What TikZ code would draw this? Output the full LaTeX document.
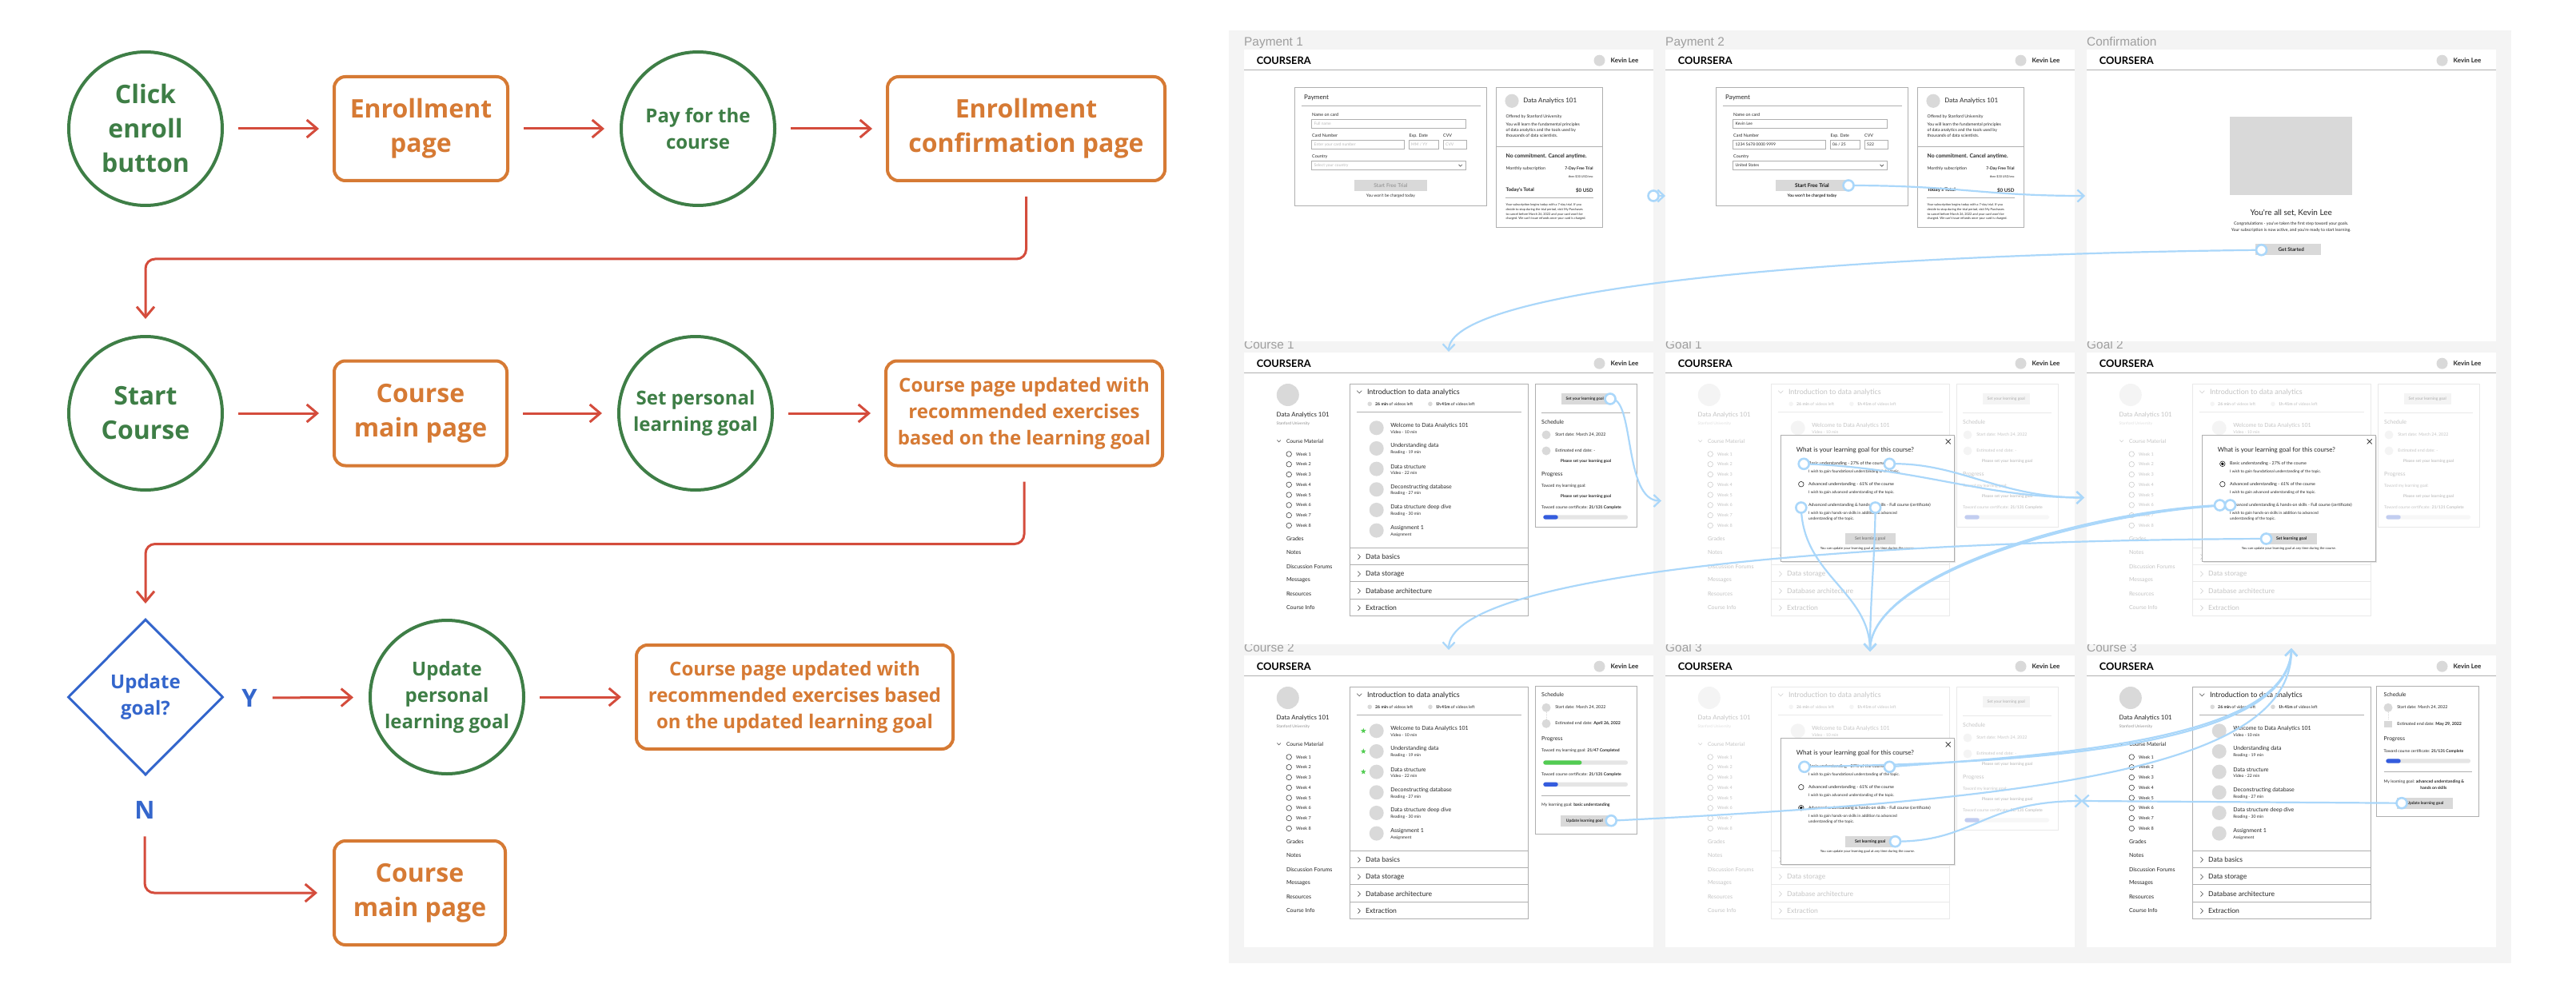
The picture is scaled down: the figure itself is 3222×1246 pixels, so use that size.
\documentclass[tikz,border=0pt]{standalone}
\usepackage{fontspec}
\usetikzlibrary{arrows.meta,shapes.geometric}
\newfontfamily\osans{Open Sans}
\newfontfamily\lato{Lato}
\newfontfamily\lsans{Liberation Sans}
\definecolor{fgreen}{RGB}{62,126,70}
\definecolor{forange}{RGB}{214,122,52}
\definecolor{fred}{RGB}{212,76,60}
\definecolor{fblue}{RGB}{52,102,204}
\definecolor{lblue}{RGB}{170,215,250}
\definecolor{bgg}{RGB}{244,244,244}
\definecolor{wline}{RGB}{175,175,175}
\definecolor{wfill}{RGB}{217,217,217}
\definecolor{pblue}{RGB}{52,92,222}
\definecolor{pgreen}{RGB}{82,204,82}
\newcommand\wfsz[1]{\fontsize{#1}{#1}\selectfont}
\tikzset{
  fcirc/.style={circle, draw=fgreen, line width=4pt, minimum size=192pt, inner sep=0pt, text=fgreen, align=center},
  fbox/.style={rectangle, rounded corners=14pt, draw=forange, line width=4pt, inner sep=0pt, text=forange, align=center, font=\osans\bfseries\fontsize{32}{43}\selectfont},
  fbig/.style={font=\osans\bfseries\fontsize{32}{43}\selectfont},
  fmid/.style={font=\osans\bfseries\fontsize{24}{33}\selectfont},
  yn/.style={inner sep=0pt, text=fblue, font=\osans\bfseries\fontsize{31}{31}\selectfont},
  fdia/.style={diamond, aspect=1, draw=fblue, line width=3pt, minimum width=194pt, minimum height=195pt, inner sep=0pt, text=fblue, align=center},
  farrow/.style={draw=fred, line width=3pt, -{Straight Barb[length=13pt,width=22pt]}},
  wt/.style={anchor=west, inner sep=0pt, text=black!85},
  wc/.style={anchor=center, inner sep=0pt, text=black!85},
  we/.style={anchor=east, inner sep=0pt, text=black!85},
  wbox/.style={draw=wline, line width=0.8pt},
  wchev/.style={draw=black!70, line width=0.6pt},
  plabel/.style={anchor=base west, inner sep=0pt, text=black!38, font=\lsans\fontsize{15.4}{15.4}\selectfont},
  klinkarrow/.style={draw=lblue, line width=2.2pt, -{Straight Barb[length=8pt,width=15pt]}},
  ldot/.style={circle, draw=lblue, fill=white, line width=2.6pt, minimum size=13pt, inner sep=0pt},
}
% ---------- wireframe pieces (local coordinates, panel 512 x 365) ----------
\newcommand\wfbase{%
  \fill[white] (0,0) rectangle (512,365);
  \node[wt, text=black, font=\lato\bfseries\wfsz{12.8}] at (15.6,14) {COURSERA};
  \draw[wline, line width=1pt] (0,25.7) -- (512,25.7);
  \fill[wfill] (444.5,13.7) circle (7pt);
  \node[wt, font=\lato\bfseries\wfsz{8}] at (458.5,14) {Kevin Lee};
}
\newcommand\wfbar[3]{%
  \fill[black!10, rounded corners=2.5pt] (374.3,#1-2.6) rectangle (480,#1+2.6);
  \fill[#3, rounded corners=2.5pt] (374.3,#1-2.6) rectangle (#2,#1+2.6);
}
\newcommand\wfleft{%
  \fill[wfill] (54.8,53) circle (14pt);
  \node[wt, font=\lato\wfsz{7.9}] at (40.5,78) {Data Analytics 101};
  \node[wt, text=black!45, font=\lato\wfsz{4.9}] at (40.5,89.3) {Stanford University};
  \draw[wchev] (41.3,109.6) -- (43.6,111.9) -- (45.9,109.6);
  \node[wt, font=\lato\wfsz{6.6}] at (52.8,111) {Course Material};
  \foreach \i in {1,...,8}{%
    \draw[black!75, line width=0.6pt] (56.2,{127+(\i-1)*12.77}) circle (3.3pt);
    \node[wt, font=\lato\wfsz{5.5}] at (65,{127+(\i-1)*12.77}) {Week \i};
  }
  \foreach \mt/\yy in {Grades/233.3, Notes/250.5, Discussion Forums/267.5, Messages/284.5, Resources/302, Course Info/319}{%
    \node[wt, font=\lato\wfsz{7}] at (52.8,\yy) {\mt};
  }
}
\newcommand\wfmid[1]{%
  \draw[wbox] (132.6,39) rectangle (355,329.7);
  \draw[wchev] (141.2,47.7) -- (144.2,50.7) -- (147.2,47.7);
  \node[wt, font=\lato\wfsz{9}] at (153.8,49.7) {Introduction to data analytics};
  \fill[wfill] (157.2,64.3) circle (2.8pt);
  \node[wt, font=\lato\wfsz{5.2}] at (164,64.3) {\textbf{26 min} of videos left};
  \fill[wfill] (232.9,64.3) circle (2.8pt);
  \node[wt, font=\lato\wfsz{5.2}] at (239.8,64.3) {\textbf{1h 41m} of videos left};
  \draw[wline, line width=1pt] (140.7,74.3) -- (347,74.3);
  \foreach \mt/\ms [count=\k] in {Welcome to Data Analytics 101/Video - 10 min, Understanding data/Reading - 19 min, Data structure/Video - 22 min, Deconstructing database/Reading - 27 min, Data structure deep dive/Reading - 30 min, Assignment 1/Assignment}{%
    \pgfmathsetmacro\yy{94.3+(\k-1)*25.66}
    \fill[wfill] (165.7,\yy) circle (9pt);
    \node[wt, font=\lato\wfsz{7}] at (183.1,\yy-3) {\mt};
    \node[wt, font=\lato\wfsz{5.1}] at (183.1,\yy+5.3) {\ms};
    \ifnum#1=1 \ifnum\k<4 \node[star, star points=5, star point ratio=2.3, fill=pgreen, inner sep=0pt, minimum size=7pt] at (149.3,\yy) {};\fi\fi
  }
  \foreach \yy in {244.6,265.3,286.6,308.3}{\draw[wline, line width=1pt] (132.6,\yy) -- (355,\yy);}
  \foreach \mt/\yy in {Data basics/255.6, Data storage/277, Database architecture/298.3, Extraction/319.6}{%
    \draw[wchev] (142.4,\yy-3.2) -- (145.4,\yy) -- (142.4,\yy+3.2);
    \node[wt, font=\lato\wfsz{8.6}] at (152,\yy) {\mt};
  }
}
\newcommand\wfrightA{%
  \draw[wbox] (364.3,39) rectangle (491.6,218);
  \fill[wfill] (396.7,51.3) rectangle (455.7,65);
  \node[wc, font=\lato\bfseries\wfsz{4.9}] at (426.2,58.2) {Set your learning goal};
  \draw[wline, line width=1pt] (372,75.3) -- (483,75.3);
  \node[wt, font=\lato\wfsz{7}] at (372,86.7) {Schedule};
  \fill[wfill] (378,103) circle (5.5pt);
  \node[wt, font=\lato\wfsz{5.3}] at (389.2,103) {Start date: March 24, 2022};
  \fill[wfill] (378,123) circle (5.5pt);
  \node[wt, font=\lato\wfsz{5.3}] at (389.2,123) {Estimated end date: -};
  \node[wc, font=\lato\bfseries\wfsz{5}] at (427.5,135.7) {Please set your learning goal};
  \node[wt, font=\lato\wfsz{7}] at (372,153) {Progress};
  \node[wt, font=\lato\wfsz{5.1}] at (372,167) {Toward my learning goal:};
  \node[wc, font=\lato\bfseries\wfsz{5}] at (427.5,179.7) {Please set your learning goal};
  \node[wt, font=\lato\wfsz{5.1}] at (372,194) {Toward course certificate: \textbf{21/131 Complete}};
  \wfbar{206}{392.7}{pblue}
}
\newcommand\wfrightB{%
  \draw[wbox] (364.3,38.7) rectangle (491.6,223.7);
  \node[wt, font=\lato\wfsz{7}] at (372,49.3) {Schedule};
  \fill[wfill] (378,65.3) circle (5.5pt);
  \draw[wfill, dash pattern=on 1pt off 1pt, line width=0.6pt] (378,71) -- (378,79.5);
  \fill[wfill] (378,85.3) circle (5.5pt);
  \node[wt, font=\lato\wfsz{5.3}] at (389.2,65.3) {Start date: March 24, 2022};
  \node[wt, font=\lato\wfsz{5.3}] at (389.2,85.3) {Estimated end date: \textbf{April 26, 2022}};
  \node[wt, font=\lato\wfsz{7}] at (372,105) {Progress};
  \node[wt, font=\lato\wfsz{5.1}] at (372,119) {Toward my learning goal: \textbf{21/47 Completed}};
  \wfbar{134}{422.4}{pgreen}
  \node[wt, font=\lato\wfsz{5.1}] at (372,149) {Toward course certificate: \textbf{21/131 Complete}};
  \wfbar{161.3}{392.7}{pblue}
  \draw[wline, line width=1pt] (372,175) -- (483,175);
  \node[wt, font=\lato\wfsz{5.1}] at (372,187.3) {My learning goal: \textbf{basic understanding}};
  \fill[wfill] (396,200) rectangle (455.7,214);
  \node[wc, font=\lato\bfseries\wfsz{5}] at (425.8,207) {Update learning goal};
}
\newcommand\wfrightC{%
  \draw[wbox] (362.5,38.7) rectangle (490.2,201);
  \node[wt, font=\lato\wfsz{7}] at (371.5,49.3) {Schedule};
  \fill[wfill] (377,65.3) circle (5.5pt);
  \draw[wfill, dash pattern=on 1pt off 1pt, line width=0.6pt] (377,71) -- (377,81);
  \fill[wfill] (371.7,81.7) rectangle (382.2,90);
  \node[wt, font=\lato\wfsz{5.3}] at (388.2,65.3) {Start date: March 24, 2022};
  \node[wt, font=\lato\wfsz{5.3}] at (388.2,85.8) {Estimated end date: \textbf{May 29, 2022}};
  \node[wt, font=\lato\wfsz{7}] at (371.5,105) {Progress};
  \node[wt, font=\lato\wfsz{5.1}] at (371.5,119.6) {Toward course certificate: \textbf{21/131 Complete}};
  \wfbar{132}{392.7}{pblue}
  \draw[wline, line width=1pt] (371.5,145.7) -- (482,145.7);
  \node[wt, font=\lato\wfsz{5.1}] at (371.5,158.3) {My learning goal: \textbf{advanced understanding \&}};
  \node[wc, font=\lato\bfseries\wfsz{5.1}] at (433.8,165.3) {hands on skills};
  \fill[wfill] (388.2,178) rectangle (458.3,192);
  \node[wc, font=\lato\bfseries\wfsz{5}] at (423.3,185) {Update learning goal};
}
\newcommand\wfmodal[2]{%
  \fill[black!10] (145.8,105.4) rectangle (362.8,263);
  \fill[white] (144.5,103.7) rectangle (361.2,261);
  \draw[wbox] (144.5,103.7) rectangle (361.2,261);
  \draw[black!85, line width=0.7pt] (350.7,108.3) -- (356.7,114.3) (350.7,114.3) -- (356.7,108.3);
  \node[wt, font=\lato\wfsz{8}] at (163.6,122.7) {What is your learning goal for this course?};
  \foreach \yy/\k in {139.3/1,164.7/2,190.7/3}{%
    \draw[black!85, line width=0.6pt] (169.8,\yy) circle (3.3pt);
    \ifnum\k=#1\relax \fill[black] (169.8,\yy) circle (1.9pt);\fi
  }
  \node[wt, font=\lato\wfsz{5.4}] at (179,139.3) {Basic understanding - 27\% of the course};
  \node[wt, font=\lato\wfsz{4.8}] at (179,149.3) {I wish to gain foundational understanding of the topic.};
  \node[wt, font=\lato\wfsz{5.4}] at (179,164.7) {Advanced understanding - 61\% of the course};
  \node[wt, font=\lato\wfsz{4.8}] at (179,174.7) {I wish to gain advanced understanding of the topic.};
  \node[wt, font=\lato\wfsz{5.2}] at (179,190.7) {Advanced understanding \& hands-on skills - Full course (certificate)};
  \node[wt, font=\lato\wfsz{4.8}] at (179,200.7) {I wish to gain hands-on skills in addition to advanced};
  \node[wt, font=\lato\wfsz{4.8}] at (179,208) {understanding of the topic.};
  \fill[wfill] (225,226) rectangle (287.5,239.7);
  \node[wc, text=#2, font=\lato\bfseries\wfsz{5.2}] at (256.2,232.8) {Set learning goal};
  \node[wc, font=\lato\wfsz{4.2}] at (252.8,245.3) {You can update your learning goal at any time during the course.};
}
\newcommand\wfpayment[8]{%
  \draw[wbox] (63.3,47.3) rectangle (303.6,195.7);
  \node[wt, font=\lato\wfsz{8}] at (75,60.7) {Payment};
  \draw[wline, line width=1pt] (71.8,71) -- (295.8,71);
  \node[wt, font=\lato\wfsz{5.4}] at (85,82) {Name on card};
  \draw[wbox] (84.3,87.3) rectangle (277.8,98.3);
  \node[wt, text=#6, font=\lato\wfsz{5}] at (87.5,92.8) {#1};
  \node[wt, font=\lato\wfsz{5.4}] at (85,108) {Card Number};
  \node[wt, font=\lato\wfsz{5.4}] at (206.4,108) {Exp. Date};
  \node[wt, font=\lato\wfsz{5.4}] at (249,108) {CVV};
  \draw[wbox] (84.3,113.3) rectangle (200.7,124.3);
  \draw[wbox] (206,113.3) rectangle (243.5,124.3);
  \draw[wbox] (249,113.3) rectangle (278,124.3);
  \node[wt, text=#6, font=\lato\wfsz{5}] at (87.5,118.8) {#2};
  \node[wt, text=#6, font=\lato\wfsz{5}] at (209,118.8) {#3};
  \node[wt, text=#6, font=\lato\wfsz{5}] at (252,118.8) {#4};
  \node[wt, font=\lato\wfsz{5.4}] at (85,134) {Country};
  \draw[wbox] (84.3,139.3) rectangle (277.8,150.7);
  \node[wt, text=#6, font=\lato\wfsz{5}] at (87.5,145) {#5};
  \draw[wchev] (268.5,143.9) -- (270.7,146.1) -- (272.9,143.9);
  \fill[wfill] (137.9,163) rectangle (228.9,177);
  \node[wc, text=#7, font=\lato#8\wfsz{6.6}] at (183.4,170) {Start Free Trial};
  \node[wc, font=\lato#8\wfsz{5}] at (183.4,183) {You won't be charged today};
  \draw[wbox] (315.3,47.3) rectangle (448.1,222.3);
  \fill[wfill] (335,64.3) circle (8.6pt);
  \node[wt, font=\lato\wfsz{8}] at (349.2,64.3) {Data Analytics 101};
  \node[wt, font=\lato\wfsz{5.2}] at (327.4,83.7) {Offered by Stanford University};
  \node[wt, font=\lato\wfsz{5.2}] at (327.4,93.7) {You will learn the fundamental principles};
  \node[wt, font=\lato\wfsz{5.2}] at (327.4,100.9) {of data analytics and the tools used by};
  \node[wt, font=\lato\wfsz{5.2}] at (327.4,108.1) {thousands of data scientists.};
  \draw[wline, line width=1pt] (315.3,122) -- (448.1,122);
  \node[wt, font=\lato\bfseries\wfsz{6.8}] at (327.4,133.3) {No commitment. Cancel anytime.};
  \node[wt, font=\lato\wfsz{5.3}] at (327.4,149.3) {Monthly subscription};
  \node[we, font=\lato\bfseries\wfsz{5}] at (436.7,149.3) {7-Day Free Trial};
  \node[we, font=\lato\wfsz{3.8}] at (436.7,159) {then \$30 USD/mo};
  \node[wt, font=\lato\bfseries\wfsz{6.2}] at (327.4,176) {Today's Total};
  \node[we, font=\lato\bfseries\wfsz{6.2}] at (436.7,176) {\$0 USD};
  \draw[wline, line width=0.8pt] (327,185.3) -- (436.7,185.3);
  \node[wt, font=\lato\wfsz{3.9}] at (327.4,194) {Your subscription begins today with a 7-day trial. If you};
  \node[wt, font=\lato\wfsz{3.9}] at (327.4,200) {decide to stop during the trial period, visit My Purchases};
  \node[wt, font=\lato\wfsz{3.9}] at (327.4,206) {to cancel before March 26, 2022 and your card won't be};
  \node[wt, font=\lato\wfsz{3.9}] at (327.4,211.7) {charged. We can't issue refunds once your card is charged.};
}
\newcommand\wfconfirm{%
  \fill[wfill] (179.3,84) rectangle (332.1,181.7);
  \node[wc, font=\lato\wfsz{10}] at (255.7,204.3) {You're all set, Kevin Lee};
  \node[wc, font=\lato\wfsz{5.2}] at (255.7,218.3) {Congratulations - you've taken the first step toward your goals.};
  \node[wc, font=\lato\wfsz{5.2}] at (255.7,225.7) {Your subscription is now active, and you're ready to start learning.};
  \fill[wfill] (211.4,243.3) rectangle (292.5,257.3);
  \node[wc, font=\lato\bfseries\wfsz{6.3}] at (255.7,250.3) {Get Started};
}
\begin{document}
\begin{tikzpicture}[x=1pt,y=-1pt]
\useasboundingbox (0,0) rectangle (3222,1246);
\fill[white] (0,0) rectangle (3222,1246);
% ================= flowchart =================
\node[fcirc, fbig] (c1) at (182,161) {Click\\enroll\\button};
\node[fbox, minimum width=217pt, minimum height=130pt] (b1) at (526.5,161) {Enrollment\\page};
\node[fcirc, fmid] (c2) at (873,161) {Pay for the\\course};
\node[fbox, minimum width=347pt, minimum height=130pt] (b2) at (1283.5,161) {Enrollment\\confirmation page};
\node[fcirc, fbig] (c3) at (182,517) {Start\\Course};
\node[fbox, minimum width=216pt, minimum height=131pt] (b3) at (526,517) {Course\\main page};
\node[fcirc, fmid] (c4) at (870,517) {Set personal\\learning goal};
\node[fbox, fmid, minimum width=346pt, minimum height=131pt] (b4) at (1281,517) {Course page updated with\\recommended exercises\\based on the learning goal};
\node[fdia, fmid] (d1) at (182,872) {Update\\goal?};
\node[yn] (ylab) at (312,873) {Y};
\node[fcirc, fmid] (c5) at (559,872) {Update\\personal\\learning goal};
\node[fbox, fmid, minimum width=396pt, minimum height=130pt] (b5) at (994,872) {Course page updated with\\recommended exercises based\\on the updated learning goal};
\node[yn] (nlab) at (181,1013) {N};
\node[fbox, minimum width=214pt, minimum height=130pt] (b6) at (525,1117) {Course\\main page};

\draw[farrow, shorten <=18pt, shorten >=17pt] (c1) -- (b1);
\draw[farrow, shorten <=18pt, shorten >=19pt] (b1) -- (c2);
\draw[farrow, shorten <=18pt, shorten >=17pt] (c2) -- (b2);
\draw[farrow, shorten <=18pt, shorten >=17pt] (c3) -- (b3);
\draw[farrow, shorten <=18pt, shorten >=19pt] (b3) -- (c4);
\draw[farrow, shorten <=18pt, shorten >=17pt] (c4) -- (b4);
\draw[farrow, shorten <=19pt, shorten >=19pt] (ylab) -- (c5);
\draw[farrow, shorten <=18pt, shorten >=17pt] (c5) -- (b5);
\draw[farrow, rounded corners=12pt] ([yshift=-18pt]b2.south) -- ++(0,78) -| ([yshift=20pt]c3.north);
\draw[farrow, rounded corners=12pt] ([yshift=-18pt]b4.south) -- ++(0,78) -| ([yshift=18pt]d1.north);
\draw[farrow, rounded corners=12pt] ([yshift=-22pt]nlab.south) |- ([xshift=-19pt]b6.west);

% ================= wireframes =================
\fill[bgg] (1537,38) rectangle (3141,1205);
\node[plabel] at (1556,57.3) {Payment 1};
\node[plabel] at (2083,57.3) {Payment 2};
\node[plabel] at (2610,57.3) {Confirmation};
\node[plabel] at (1556,436.3) {Course 1};
\node[plabel] at (2083,436.3) {Goal 1};
\node[plabel] at (2610,436.3) {Goal 2};
\node[plabel] at (1556,815.3) {Course 2};
\node[plabel] at (2083,815.3) {Goal 3};
\node[plabel] at (2610,815.3) {Course 3};

\begin{scope}[shift={(1556,62)}]
  \wfbase
  \wfpayment{Full name}{Enter your card number}{MM / YY}{CVV}{Select your country}{black!28}{black!45}{\mdseries}
\end{scope}
\begin{scope}[shift={(2083,62)}]
  \wfbase
  \wfpayment{Kevin Lee}{1234 5678 0000 9999}{06 / 25}{522}{United States}{black!85}{black!90}{\bfseries}
\end{scope}
\begin{scope}[shift={(2610,62)}]
  \wfbase
  \wfconfirm
\end{scope}
\begin{scope}[shift={(1556,441)}]
  \wfbase \wfleft \wfmid{0} \wfrightA
\end{scope}
\begin{scope}[shift={(2083,441)}]
  \wfbase
  \begin{scope}[opacity=0.27] \wfleft \wfmid{0} \wfrightA \end{scope}
  \wfmodal{0}{black!50}
\end{scope}
\begin{scope}[shift={(2610,441)}]
  \wfbase
  \begin{scope}[opacity=0.27] \wfleft \wfmid{0} \wfrightA \end{scope}
  \wfmodal{1}{black!90}
\end{scope}
\begin{scope}[shift={(1556,820)}]
  \wfbase \wfleft \wfmid{1} \wfrightB
\end{scope}
\begin{scope}[shift={(2083,820)}]
  \wfbase
  \begin{scope}[opacity=0.27] \wfleft \wfmid{0} \wfrightA \end{scope}
  \wfmodal{3}{black!90}
\end{scope}
\begin{scope}[shift={(2610,820)}]
  \wfbase \wfleft \wfmid{0} \wfrightC
\end{scope}

% ================= prototype links =================
\coordinate (k1s) at (2068,245); \coordinate (k1e) at (2083,245);
\coordinate (k2s) at (2312,232); \coordinate (k2e) at (2608,245);
\coordinate (k3s) at (2828.5,312.7); \coordinate (k3e) at (1812,440);
\coordinate (k4s) at (2014,499); \coordinate (k4e) at (2078,626.5);
\coordinate (gA) at (2256.2,580.3); \coordinate (gB) at (2363.3,580.3); \coordinate (g2in) at (2607,622.5);
\coordinate (gC) at (2252.8,635); \coordinate (gD) at (2345.6,635); \coordinate (g3in) at (2339,815);
\coordinate (gE) at (2776.5,632); \coordinate (gF) at (2789.5,632);
\coordinate (gG) at (2834.5,674); \coordinate (c2in) at (1812,813);
\coordinate (gH) at (2015.2,1026.7); \coordinate (g2bot) at (2866,811);
\coordinate (gI) at (2256.9,959.3); \coordinate (gJ) at (2363.3,959.3);
\coordinate (gK) at (2370.5,1052.7); \coordinate (c3in) at (2605,1002);
\coordinate (gM) at (3004,1004.7); \coordinate (g3rin) at (2603,1002);

\draw[klinkarrow] (k1s) -- (k1e);
\draw[klinkarrow] (k2s) .. controls (2450,232) and (2480,245) .. (k2e);
\draw[klinkarrow] (k3s) .. controls (2200,320) and (1813,370) .. (k3e);
\draw[klinkarrow] (k4s) .. controls (2045,495) and (2030,626.5) .. (k4e);
\draw[klinkarrow] (gA) .. controls (2400,585) and (2480,622.5) .. (g2in);
\draw[klinkarrow] (gB) .. controls (2450,578) and (2500,622.5) .. (g2in);
\draw[klinkarrow] (gC) .. controls (2255,720) and (2338,740) .. (g3in);
\draw[klinkarrow] (gD) .. controls (2345,700) and (2339,750) .. (g3in);
\draw[klinkarrow] (gE) .. controls (2600,640) and (2340,720) .. (g3in);
\draw[klinkarrow] (gF) .. controls (2610,640) and (2340,720) .. (g3in);
\draw[klinkarrow] (gG) .. controls (2300,676) and (1813,720) .. (c2in);
\draw[klinkarrow] (gH) .. controls (2560,1000) and (2866,960) .. (g2bot);
\draw[klinkarrow] (gI) .. controls (2480,955) and (2862,945) .. (g2bot);
\draw[klinkarrow] (gJ) .. controls (2550,945) and (2860,930) .. (g2bot);
\draw[klinkarrow] (gK) .. controls (2470,1053) and (2480,1002) .. (c3in);
\draw[klinkarrow] (gM) -- (g3rin);
\foreach \p in {k1s,k2s,k3s,k4s,gA,gB,gC,gD,gE,gF,gG,gH,gI,gJ,gK,gM}{\node[ldot] (dot-\p) at (\p) {};}
\end{tikzpicture}
\end{document}
